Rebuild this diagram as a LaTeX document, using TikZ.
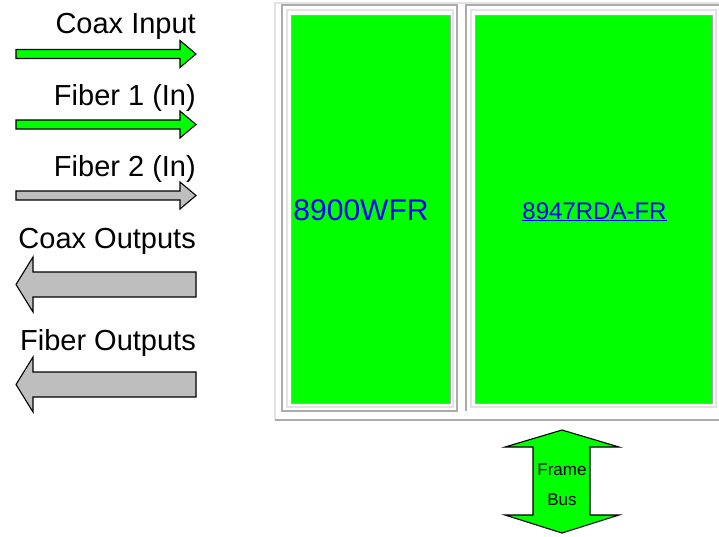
\documentclass[tikz,border=0pt]{standalone}
\usepackage{fontspec}
\setmainfont{Liberation Sans}
\usepackage{tikz}
\usetikzlibrary{calc, positioning}
\definecolor{slotgreen}{RGB}{0,255,0}
\definecolor{cablegray}{RGB}{190,190,190}
\definecolor{linkblue}{RGB}{0,0,255}
\tikzset{
    labelnode/.style = {draw=none, fill=none, rectangle, inner sep=0em, anchor=base east,
      font=\fontsize{29}{34}\selectfont},
    slotnode/.style = {draw=gray!70, fill=slotgreen, rectangle, inner sep=0em, line width=0.8pt},
    cardnode/.style = {draw=none, fill=none, inner sep=0em, anchor=base, text=linkblue},
    bustext/.style = {draw=none, fill=none, inner sep=0em, anchor=base,
      font=\fontsize{17}{20}\selectfont},
    arrowshape/.style = {draw=black, line width=1.1pt, line join=miter},
    darkedge/.style = {draw=gray!65, line width=1.3pt},
    lightedge/.style = {draw=gray!22, line width=1.3pt}
}
% thin arrow pointing into the frame, #1 = y of its axis, #2 = fill
\newcommand{\inarrow}[2]{%
  \filldraw[arrowshape, fill=#2] (16,#1-4.5) -- (180,#1-4.5) -- (180,#1-13.5) -- (196,#1)
    -- (180,#1+13.5) -- (180,#1+4.5) -- (16,#1+4.5) -- cycle;}
% wide arrow coming out of the frame
\newcommand{\outarrow}[1]{%
  \filldraw[arrowshape, fill=cablegray] (196,#1-12.5) -- (33,#1-12.5) -- (33,#1-27.5) -- (16,#1)
    -- (33,#1+27.5) -- (33,#1+12.5) -- (196,#1+12.5) -- cycle;}

\begin{document}
\begin{tikzpicture}[x=1pt, y=-1pt]
    \useasboundingbox (0,0) rectangle (719,536);

    % signal labels and arrows
    \node [labelnode, name=CoaxIn] at (196,33) {Coax Input};
    \inarrow{54}{slotgreen}
    \node [labelnode, name=FiberA] at (196,105) {Fiber 1 (In)};
    \inarrow{124.5}{slotgreen}
    \node [labelnode, name=FiberB] at (196,176) {Fiber 2 (In)};
    \inarrow{195.5}{cablegray}
    \node [labelnode, name=CoaxOut] at (196,248) {Coax Outputs};
    \outarrow{284.5}
    \node [labelnode, name=FiberOut] at (196,350) {Fiber Outputs};
    \outarrow{384.5}

    % frame outline
    \draw [lightedge] (275,420) -- (275,3) -- (722,3);
    \draw [darkedge] (274.5,420) -- (722,420);

    % slot borders
    \draw [darkedge] (282,411) -- (282,5) -- (457,5) -- (457,411) -- cycle;
    \draw [lightedge] (287,407) -- (287,10) -- (453,10) -- (453,407) -- cycle;
    \draw [darkedge] (466,411) -- (466,5) -- (722,5);
    \draw [lightedge] (471,407) -- (471,10) -- (716,10) -- (716,407) -- cycle;

    % cards
    \node [slotnode, name=SlotA, minimum width=159pt, minimum height=388pt] at (370.5,209) {};
    \node [slotnode, name=SlotB, minimum width=237pt, minimum height=388pt] at (593.5,209) {};
    \node [cardnode, name=WFR, font=\fontsize{30}{34}\selectfont] at (361,220) {8900WFR};
    \node [cardnode, name=RDA, font=\fontsize{24}{28}\selectfont] at (594.5,219) {\underline{8947RDA-FR}};

    % frame bus
    \filldraw [arrowshape, fill=slotgreen] (562,430) -- (619,447) -- (590,447) -- (590,515)
        -- (619,515) -- (562,533) -- (505,515) -- (533,515) -- (533,447) -- (505,447) -- cycle;
    \node [bustext, name=BusA] at (562,475) {Frame};
    \node [bustext, name=BusB, below=30pt of BusA.base, anchor=base] {Bus};
\end{tikzpicture}
\end{document}
